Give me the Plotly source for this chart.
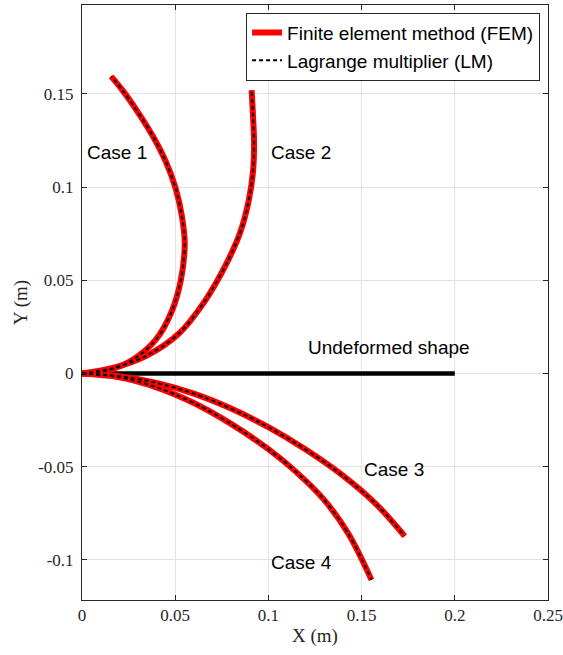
import plotly.graph_objects as go

# curve shapes (metres)
case1_x = [0, 0.0149, 0.0274, 0.0395, 0.0480, 0.0530, 0.0551, 0.0535, 0.0502, 0.0450, 0.0382, 0.0303, 0.0217, 0.0156]
case1_y = [0, 0.0020, 0.0075, 0.0180, 0.0330, 0.0500, 0.0700, 0.0849, 0.0995, 0.1136, 0.1270, 0.1397, 0.1520, 0.1594]

case2_x = [0, 0.0166, 0.0345, 0.0520, 0.0660, 0.0770, 0.0848, 0.0895, 0.0918, 0.0923, 0.0917, 0.0910]
case2_y = [0, 0.0030, 0.0095, 0.0215, 0.0390, 0.0580, 0.0755, 0.0930, 0.1090, 0.1240, 0.1390, 0.1520]

case3_x = [0, 0.020, 0.040, 0.060, 0.080, 0.100, 0.120, 0.140, 0.158, 0.1731]
case3_y = [0, -0.0014, -0.0050, -0.0108, -0.0188, -0.0288, -0.0408, -0.0548, -0.0703, -0.0872]

case4_x = [0, 0.020, 0.040, 0.060, 0.080, 0.100, 0.115, 0.130, 0.143, 0.1553]
case4_y = [0, -0.0020, -0.0074, -0.0158, -0.0270, -0.0406, -0.0529, -0.0679, -0.0861, -0.1107]

undeformed_x = [0, 0.2]
undeformed_y = [0, 0]

cases = [(case1_x, case1_y), (case2_x, case2_y), (case3_x, case3_y), (case4_x, case4_y)]
case_labels = ["Case 1", "Case 2", "Case 3", "Case 4", "Undeformed shape"]
label_x = [0.0016, 0.1003, 0.150, 0.1003, 0.120]
label_y = [0.1188, 0.1188, -0.0513, -0.1013, 0.0137]

x_ticks = [0, 0.05, 0.1, 0.15, 0.2, 0.25]
x_ticktext = ["0", "0.05", "0.1", "0.15", "0.2", "0.25"]
y_ticks = [-0.1, -0.05, 0, 0.05, 0.1, 0.15]
y_ticktext = ["-0.1", "-0.05", "0", "0.05", "0.1", "0.15"]

SERIF = "Liberation Serif, Times New Roman, serif"
SANS = "Liberation Sans, Arial, sans-serif"
INK = "#262626"

fig = go.Figure()
fig.add_trace(go.Scatter(x=undeformed_x, y=undeformed_y, mode="lines",
                         line=dict(color="black", width=4.5), showlegend=False))

for i, (cx, cy) in enumerate(cases):
    fig.add_trace(go.Scatter(x=cx, y=cy, mode="lines", line=dict(color="red", width=6, shape="spline"),
                             name="Finite element method (FEM)", legendgroup="fem",
                             showlegend=(i == 0)))
for i, (cx, cy) in enumerate(cases):
    fig.add_trace(go.Scatter(x=cx, y=cy, mode="lines",
                             line=dict(color="black", width=2, dash="4px,3px", shape="spline"),
                             name="Lagrange multiplier (LM)", legendgroup="lm",
                             showlegend=(i == 0)))

for txt, lx, ly in zip(case_labels, label_x, label_y):
    fig.add_annotation(x=lx, y=ly, text=txt, showarrow=False, xanchor="left", yanchor="middle",
                       font=dict(family=SANS, size=19, color="black"))

axis_common = dict(showgrid=True, gridcolor="#e3e3e3", gridwidth=1, zeroline=False,
                   showline=True, linecolor=INK, linewidth=1, mirror="ticks",
                   ticks="inside", ticklen=5, tickcolor=INK, automargin=False,
                   ticklabeloverflow="allow",
                   tickfont=dict(family=SERIF, size=17, color=INK))

fig.update_xaxes(range=[0, 0.25], tickvals=x_ticks, ticktext=x_ticktext,
                 title=dict(text="X (m)", font=dict(family=SERIF, size=19, color=INK), standoff=4),
                 **axis_common)
fig.update_yaxes(range=[-0.1215, 0.1977], tickvals=y_ticks, ticktext=y_ticktext,
                 ticklabelstandoff=4,
                 title=dict(text="Y (m)", font=dict(family=SERIF, size=19, color=INK), standoff=5),
                 **axis_common)

fig.update_layout(
    width=563, height=655,
    margin=dict(l=82, r=15, t=5, b=55),
    plot_bgcolor="white", paper_bgcolor="white",
    legend=dict(x=0.983, y=0.987, xanchor="right", yanchor="top",
                bgcolor="white", bordercolor=INK, borderwidth=1,
                font=dict(family=SANS, size=19, color="black"),
                tracegroupgap=0, itemwidth=30),
)

# the page's default body margin would push the figure off the window
fig.write_html("out.html", config={"displayModeBar": False},
               post_script="document.body.style.margin='0';")
